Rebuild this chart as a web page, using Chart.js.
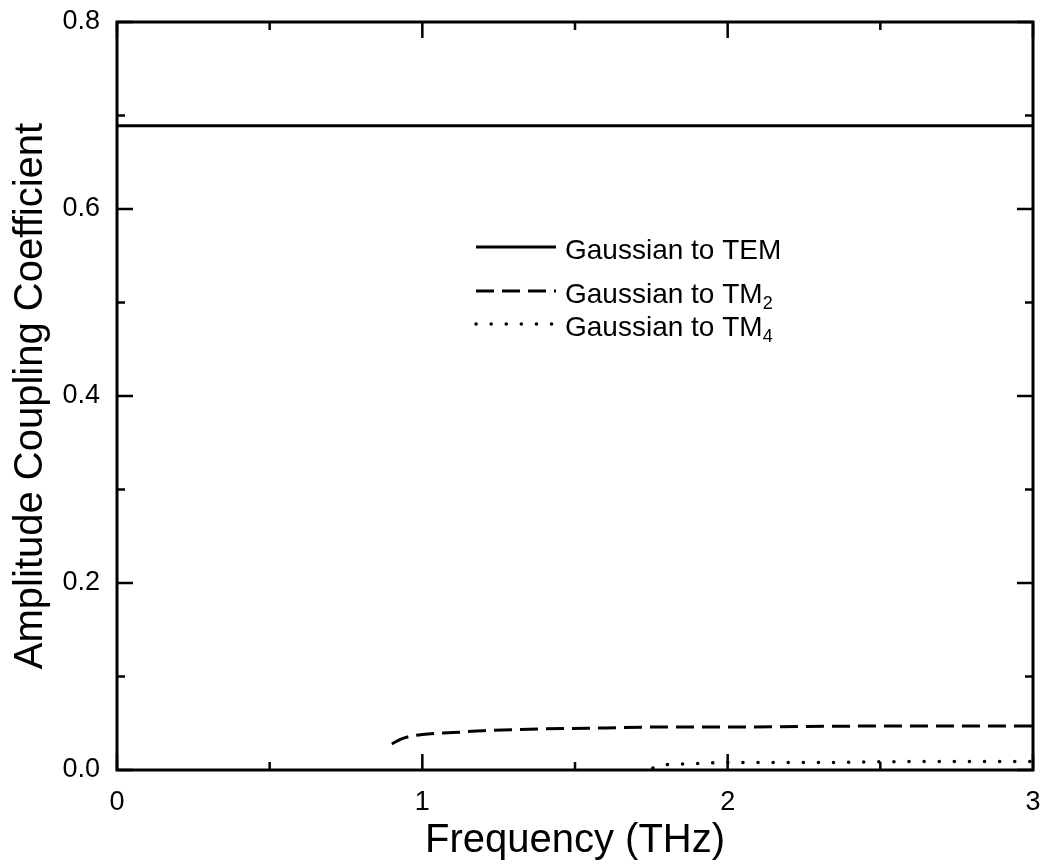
<!DOCTYPE html>
<html>
<head>
<meta charset="utf-8">
<script src="https://cdn.jsdelivr.net/npm/chart.js@4/dist/chart.umd.min.js"></script>
<style>
  html, body { margin: 0; padding: 0; background: #fff; }
  #wrap { width: 1042px; height: 865px; }
</style>
</head>
<body>
<div id="wrap"><canvas id="chart" width="1042" height="865"></canvas></div>
<script>
// data
const temFreq = [0, 3];
const temCoef = [0.689, 0.689];

const tm2Freq = [0.9, 0.93, 0.96, 1.0, 1.1, 1.2, 1.4, 1.6, 1.8, 2.0, 2.5, 3.0];
const tm2Coef = [0.028, 0.033, 0.036, 0.038, 0.040, 0.042, 0.044, 0.045, 0.046, 0.046, 0.047, 0.047];

const tm4Freq = [1.755, 1.78, 1.82, 1.9, 2.0, 2.3, 2.6, 3.0];
const tm4Coef = [0.002, 0.005, 0.006, 0.007, 0.008, 0.008, 0.009, 0.009];

const legendNames = ["Gaussian to TEM", "Gaussian to TM", "Gaussian to TM"];
const legendSubs = ["", "2", "4"];

const xTicks = [0, 1, 2, 3];
const yTicks = [0, 0.2, 0.4, 0.6, 0.8];

const FONT = "'Liberation Sans', Arial, sans-serif";

function pts(xs, ys) {
  return xs.map((x, i) => ({ x: x, y: ys[i] }));
}

// inward major/minor ticks on all four sides + frame
const frameTicks = {
  id: "frameTicks",
  afterDraw(chart) {
    const { ctx, chartArea: a, scales } = chart;
    const xs = scales.x, ys = scales.y;
    ctx.save();
    ctx.strokeStyle = "#000";
    ctx.lineWidth = 3;
    ctx.strokeRect(a.left, a.top, a.right - a.left, a.bottom - a.top);
    ctx.lineWidth = 2.5;
    for (let v = 0; v <= 3.001; v += 0.5) {
      const px = xs.getPixelForValue(v);
      const len = Math.abs(v - Math.round(v)) < 1e-6 ? 16 : 8;
      ctx.beginPath();
      ctx.moveTo(px, a.bottom); ctx.lineTo(px, a.bottom - len);
      ctx.moveTo(px, a.top); ctx.lineTo(px, a.top + len);
      ctx.stroke();
    }
    for (let i = 0; i <= 8; i++) {
      const v = i / 10;
      const py = ys.getPixelForValue(v);
      const len = i % 2 === 0 ? 16 : 8;
      ctx.beginPath();
      ctx.moveTo(a.left, py); ctx.lineTo(a.left + len, py);
      ctx.moveTo(a.right, py); ctx.lineTo(a.right - len, py);
      ctx.stroke();
    }
    ctx.restore();
  }
};

// legend with subscripts
const subLegend = {
  id: "subLegend",
  afterDraw(chart) {
    const ctx = chart.ctx;
    const rows = [247, 291, 324];
    const x0 = 476, x1 = 556;
    ctx.save();
    chart.data.datasets.forEach((ds, i) => {
      const y = rows[i];
      ctx.strokeStyle = "#000";
      ctx.lineWidth = ds.borderWidth;
      ctx.setLineDash(ds.borderDash || []);
      ctx.lineCap = ds.borderCapStyle || "butt";
      ctx.beginPath();
      ctx.moveTo(x0, y); ctx.lineTo(x1, y);
      ctx.stroke();
      ctx.setLineDash([]);
      ctx.fillStyle = "#000";
      ctx.textBaseline = "alphabetic";
      ctx.textAlign = "left";
      ctx.font = "28px " + FONT;
      const base = y + 12;
      ctx.fillText(legendNames[i], 565, base);
      if (legendSubs[i]) {
        const w = ctx.measureText(legendNames[i]).width;
        ctx.font = "18px " + FONT;
        ctx.fillText(legendSubs[i], 565 + w, base + 6);
      }
    });
    ctx.restore();
  }
};

new Chart(document.getElementById("chart"), {
  type: "scatter",
  data: {
    datasets: [
      {
        label: "Gaussian to TEM",
        data: pts(temFreq, temCoef),
        showLine: true,
        borderColor: "#000",
        borderWidth: 3,
        pointRadius: 0,
      },
      {
        label: "Gaussian to TM2",
        data: pts(tm2Freq, tm2Coef),
        showLine: true,
        borderColor: "#000",
        borderWidth: 3,
        borderDash: [18, 8],
        pointRadius: 0,
        cubicInterpolationMode: "monotone",
      },
      {
        label: "Gaussian to TM4",
        data: pts(tm4Freq, tm4Coef),
        showLine: true,
        borderColor: "#000",
        borderWidth: 3.5,
        borderDash: [0.1, 15],
        borderCapStyle: "round",
        pointRadius: 0,
        cubicInterpolationMode: "monotone",
      },
    ],
  },
  options: {
    responsive: false,
    animation: false,
    layout: { padding: { top: 22, right: 9, left: 0, bottom: 0 } },
    plugins: { legend: { display: false }, tooltip: { enabled: false } },
    scales: {
      x: {
        type: "linear",
        min: 0,
        max: 3,
        afterFit: (s) => { s.height = 95; s.paddingLeft = 0; s.paddingRight = 0; },
        afterBuildTicks: (s) => { s.ticks = xTicks.map((v) => ({ value: v })); },
        grid: { display: false, drawTicks: false },
        border: { display: false },
        ticks: {
          color: "#000",
          padding: 16,
          font: { family: FONT, size: 27 },
          callback: (v) => String(v),
        },
        title: {
          display: true,
          text: "Frequency (THz)",
          color: "#000",
          font: { family: FONT, size: 40 },
          padding: { top: 0, bottom: 0 },
        },
      },
      y: {
        type: "linear",
        min: 0,
        max: 0.8,
        afterFit: (s) => { s.width = 117; s.paddingTop = 0; s.paddingBottom = 0; },
        afterBuildTicks: (s) => { s.ticks = yTicks.map((v) => ({ value: v })); },
        grid: { display: false, drawTicks: false },
        border: { display: false },
        ticks: {
          color: "#000",
          padding: 17,
          font: { family: FONT, size: 27 },
          callback: (v) => v.toFixed(1),
        },
        title: {
          display: true,
          text: "Amplitude Coupling Coefficient",
          color: "#000",
          font: { family: FONT, size: 40 },
          padding: { top: 7, bottom: 0 },
        },
      },
    },
  },
  plugins: [frameTicks, subLegend],
});
</script>
</body>
</html>
